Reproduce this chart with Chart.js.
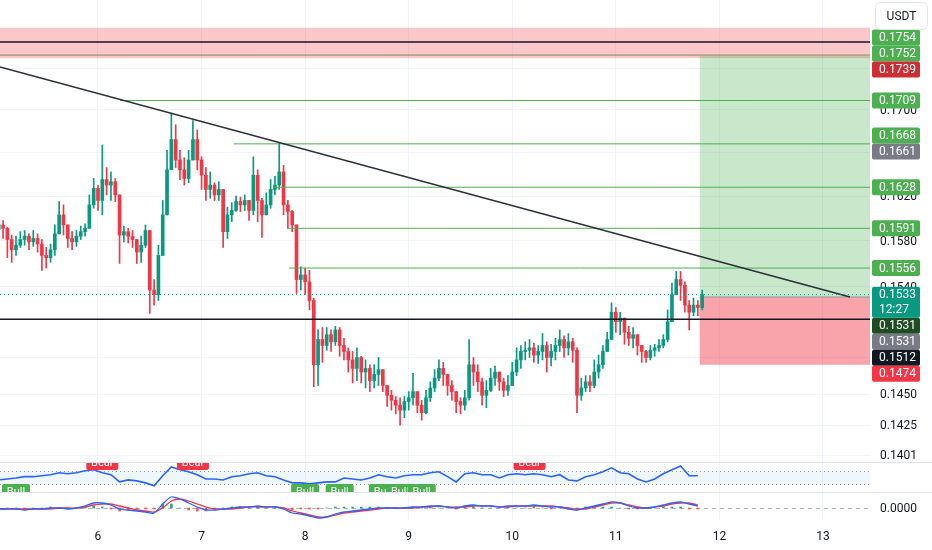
<!DOCTYPE html>
<html>
<head>
<meta charset="utf-8">
<title>USDT chart</title>
<script src="https://cdn.jsdelivr.net/npm/chart.js@4.4.1/dist/chart.umd.min.js"></script>
<style>
  html, body { margin: 0; padding: 0; background: #ffffff; }
  #wrap { position: relative; width: 932px; height: 550px; }
</style>
</head>
<body>
<div id="wrap"><canvas id="chart"></canvas></div>
<script>
// hourly candles, x is the day of the month
const candleStart = 5 + 1 / 24;
const candleStep = 1 / 24;
const firstOpen = 0.1590;

const closes = [
  0.1594, 0.1591, 0.1581, 0.1572, 0.1576, 0.1581, 0.1584, 0.1579, 0.1582, 0.1577,
  0.1567, 0.1565, 0.1572, 0.1586, 0.1603, 0.1594, 0.1582, 0.1579, 0.1584, 0.1588,
  0.1591, 0.1612, 0.1627, 0.1616, 0.1635, 0.1630, 0.1633, 0.1621, 0.1585, 0.1588,
  0.1584, 0.1581, 0.1570, 0.1576, 0.1589, 0.1537, 0.1533, 0.1567, 0.1603, 0.1644,
  0.1672, 0.1653, 0.1644, 0.1636, 0.1653, 0.1672, 0.1653, 0.1639, 0.1626, 0.1630,
  0.1621, 0.1626, 0.1588, 0.1603, 0.1607, 0.1615, 0.1612, 0.1616, 0.1607, 0.1639,
  0.1616, 0.1603, 0.1612, 0.1626, 0.1630, 0.1642, 0.1612, 0.1606, 0.1594, 0.1546,
  0.1550, 0.1544, 0.1528, 0.1474, 0.1495, 0.1490, 0.1499, 0.1493, 0.1503, 0.1490,
  0.1485, 0.1478, 0.1471, 0.1480, 0.1468, 0.1471, 0.1461, 0.1466, 0.1470, 0.1457,
  0.1449, 0.1445, 0.1441, 0.1437, 0.1444, 0.1447, 0.1452, 0.1441, 0.1435, 0.1447,
  0.1455, 0.1463, 0.1471, 0.1466, 0.1457, 0.1452, 0.1444, 0.1441, 0.1447, 0.1474,
  0.1468, 0.1460, 0.1449, 0.1453, 0.1463, 0.1468, 0.1460, 0.1453, 0.1457, 0.1468,
  0.1478, 0.1485, 0.1486, 0.1488, 0.1482, 0.1485, 0.1490, 0.1480, 0.1485, 0.1490,
  0.1495, 0.1488, 0.1493, 0.1486, 0.1449, 0.1455, 0.1460, 0.1457, 0.1468, 0.1474,
  0.1485, 0.1495, 0.1518, 0.1510, 0.1513, 0.1501, 0.1496, 0.1499, 0.1490, 0.1485,
  0.1480, 0.1486, 0.1488, 0.1490, 0.1495, 0.1510, 0.1533, 0.1546, 0.1541, 0.1524,
  0.1518, 0.1524, 0.1522, 0.1533
];
const highs = [
  0.1603, 0.1598, 0.1592, 0.1585, 0.1584, 0.1588, 0.1589, 0.1586, 0.1589, 0.1586,
  0.1581, 0.1574, 0.1577, 0.1594, 0.1615, 0.1612, 0.1594, 0.1588, 0.1589, 0.1593,
  0.1595, 0.1621, 0.1636, 0.1630, 0.1667, 0.1646, 0.1642, 0.1636, 0.1621, 0.1593,
  0.1591, 0.1589, 0.1581, 0.1584, 0.1594, 0.1589, 0.1546, 0.1576, 0.1616, 0.1662,
  0.1697, 0.1686, 0.1662, 0.1655, 0.1662, 0.1690, 0.1681, 0.1656, 0.1646, 0.1642,
  0.1632, 0.1633, 0.1621, 0.1610, 0.1614, 0.1620, 0.1619, 0.1621, 0.1616, 0.1656,
  0.1644, 0.1618, 0.1623, 0.1635, 0.1638, 0.1669, 0.1648, 0.1616, 0.1607, 0.1594,
  0.1557, 0.1556, 0.1554, 0.1530, 0.1503, 0.1505, 0.1505, 0.1503, 0.1506, 0.1505,
  0.1496, 0.1488, 0.1485, 0.1488, 0.1481, 0.1478, 0.1474, 0.1474, 0.1480, 0.1470,
  0.1457, 0.1453, 0.1448, 0.1447, 0.1448, 0.1452, 0.1467, 0.1449, 0.1445, 0.1453,
  0.1460, 0.1470, 0.1478, 0.1476, 0.1464, 0.1461, 0.1449, 0.1447, 0.1453, 0.1495,
  0.1480, 0.1474, 0.1463, 0.1461, 0.1471, 0.1473, 0.1468, 0.1463, 0.1465, 0.1476,
  0.1488, 0.1490, 0.1493, 0.1495, 0.1492, 0.1490, 0.1500, 0.1493, 0.1491, 0.1496,
  0.1503, 0.1498, 0.1500, 0.1496, 0.1488, 0.1463, 0.1465, 0.1465, 0.1478, 0.1482,
  0.1490, 0.1501, 0.1526, 0.1522, 0.1518, 0.1513, 0.1506, 0.1505, 0.1499, 0.1490,
  0.1486, 0.1490, 0.1491, 0.1495, 0.1499, 0.1520, 0.1543, 0.1553, 0.1553, 0.1544,
  0.1528, 0.1530, 0.1528, 0.1537
];
const lows = [
  0.1585, 0.1582, 0.1565, 0.1561, 0.1567, 0.1574, 0.1576, 0.1572, 0.1575, 0.1570,
  0.1554, 0.1556, 0.1561, 0.1567, 0.1589, 0.1585, 0.1574, 0.1572, 0.1575, 0.1581,
  0.1584, 0.1591, 0.1609, 0.1607, 0.1603, 0.1621, 0.1616, 0.1615, 0.1560, 0.1579,
  0.1578, 0.1574, 0.1560, 0.1561, 0.1574, 0.1517, 0.1524, 0.1528, 0.1567, 0.1603,
  0.1648, 0.1646, 0.1635, 0.1630, 0.1632, 0.1653, 0.1644, 0.1626, 0.1616, 0.1618,
  0.1616, 0.1616, 0.1574, 0.1582, 0.1597, 0.1606, 0.1606, 0.1607, 0.1598, 0.1603,
  0.1597, 0.1583, 0.1603, 0.1609, 0.1621, 0.1626, 0.1603, 0.1591, 0.1588, 0.1534,
  0.1537, 0.1533, 0.1520, 0.1456, 0.1457, 0.1476, 0.1486, 0.1485, 0.1490, 0.1481,
  0.1478, 0.1468, 0.1459, 0.1461, 0.1459, 0.1455, 0.1452, 0.1455, 0.1457, 0.1452,
  0.1440, 0.1437, 0.1434, 0.1425, 0.1431, 0.1437, 0.1441, 0.1435, 0.1429, 0.1434,
  0.1444, 0.1452, 0.1461, 0.1457, 0.1449, 0.1445, 0.1435, 0.1434, 0.1437, 0.1445,
  0.1457, 0.1452, 0.1441, 0.1439, 0.1452, 0.1457, 0.1453, 0.1448, 0.1449, 0.1457,
  0.1465, 0.1471, 0.1478, 0.1480, 0.1476, 0.1475, 0.1478, 0.1468, 0.1473, 0.1478,
  0.1485, 0.1480, 0.1482, 0.1476, 0.1435, 0.1445, 0.1452, 0.1452, 0.1455, 0.1463,
  0.1471, 0.1485, 0.1496, 0.1501, 0.1499, 0.1491, 0.1490, 0.1488, 0.1482, 0.1476,
  0.1476, 0.1478, 0.1481, 0.1485, 0.1488, 0.1493, 0.1511, 0.1535, 0.1528, 0.1518,
  0.1503, 0.1515, 0.1515, 0.1520
];

// oscillators, one value every two candles
const oscStep = 2 / 24;
const rsiValues = [
  42, 45, 48, 52, 52, 55, 58, 64, 61, 64, 70, 73, 64, 58, 36, 42, 39, 33, 24, 55,
  82, 73, 67, 58, 45, 45, 42, 52, 55, 61, 64, 55, 52, 42, 33, 33, 30, 33, 36, 36,
  48, 45, 42, 48, 58, 52, 48, 55, 58, 58, 64, 67, 52, 36, 61, 64, 58, 58, 48, 58,
  61, 58, 61, 58, 52, 58, 42, 39, 52, 58, 67, 79, 64, 61, 45, 36, 45, 61, 73, 85,
  55, 55
];
// MACD pane values in units of 0.0001 USDT
const macdLine = [
  -1, -1, -1, -2, -1, -1, 0, 0, -1, 0, 2, 5, 5, 3, -1, -2, -3, -4, -5, 4,
  11, 9, 5, 1, -2, -2, -1, 0, 1, 1, 2, 1, 1, -1, -5, -6, -8, -10, -9, -6,
  -4, -3, -2, -1, 0, 0, 0, 0, 1, 1, 2, 2, 1, 0, 2, 3, 2, 2, 1, 2,
  2, 2, 3, 2, 1, 1, -1, -2, 0, 2, 4, 6, 5, 2, 0, 0, 1, 3, 5, 6,
  4, 2
];
const macdSignal = [
  -1, -1, -1, -1, -1, -1, -1, 0, 0, 0, 1, 3, 4, 4, 2, 0, -2, -3, -4, 0,
  7, 9, 7, 4, 1, -1, -1, -1, 0, 1, 1, 1, 1, 0, -3, -5, -7, -9, -9, -7,
  -5, -4, -3, -2, -1, 0, 0, 0, 0, 1, 1, 2, 1, 1, 1, 2, 2, 2, 1, 1,
  2, 2, 2, 2, 2, 1, 0, -1, -1, 1, 3, 5, 5, 3, 1, 0, 1, 2, 4, 5,
  5, 3
];
const macdHist = [
  0, 0, 0, -1, 0, 0, 1, 0, -1, 0, 1, 2, 1, -1, -3, -2, -1, -1, -1, 4,
  4, 0, -2, -3, -3, -1, 0, 1, 1, 0, 1, 0, 0, -1, -2, -1, -1, -1, 0, 1,
  1, 1, 1, 1, 1, 0, 0, 0, 1, 0, 1, 0, 0, -1, 1, 1, 0, 0, 0, 1,
  0, 0, 1, 0, -1, 0, -1, -1, 1, 1, 1, 1, 0, -1, -1, 0, 0, 1, 1, 1,
  -1, -1
];

// axes
const dayMin = 5.0538;
const dayMax = 13.454;
const dayTicks = [6, 7, 8, 9, 10, 11, 12, 13];
const priceMin = 0.13959;
const priceMax = 0.18079;
const priceTicks = [0.1740, 0.1700, 0.1660, 0.1620, 0.1580, 0.1540, 0.1480, 0.1450, 0.1425, 0.1401];
const rsiUpper = 70;
const rsiLower = 30;

// drawings
const lastPrice = 0.1533;
const countdown = '12:27';
const trendDays = [5.0538, 13.261];
const trendPrices = [0.17413, 0.15309];
const levelPrices = [0.1709, 0.1668, 0.1628, 0.1591, 0.1556];
const levelStartDays = [6.212, 7.31, 7.70, 7.835, 7.845];
const supportPrice = 0.1512;
const zoneTop = 0.1780;
const zoneBottom = 0.1750;
const zoneLinePrices = [0.1766, 0.1753];
const tradeStartDay = 11.81;
const tradeEntry = 0.1531;
const tradeTarget = 0.1752;
const tradeStop = 0.1474;
const axisLabelValues = [0.1754, 0.1752, 0.1739, 0.1709, 0.1668, 0.1661, 0.1628, 0.1591, 0.1556, 0.1531, 0.1531, 0.1512, 0.1474];
const bearAt = [24, 45, 123];         // candle index of each Bear signal
const bullAt = [4, 71, 79, 89, 93, 98];

// styles
const FONT = "Roboto, 'Noto Sans', sans-serif";
const upColor = '#089981';
const downColor = '#f23645';
const axisLabelColors = ['#4caf50', '#4caf50', '#cc2e35', '#4caf50', '#4caf50', '#787b86', '#4caf50', '#4caf50', '#4caf50', '#1e4d21', '#787b86', '#131722', '#f23645'];

const candleX = closes.map((c, i) => candleStart + i * candleStep);
const opens = closes.map((c, i) => i === 0 ? firstOpen : closes[i - 1]);
const candleColors = closes.map((c, i) => c >= opens[i] ? upColor : downColor);
const oscX = rsiValues.map((v, k) => candleStart + k * oscStep);

function flat(fromDay, toDay, price) {
  return [{ x: fromDay, y: price }, { x: toDay, y: price }];
}
function lineSet(data, color, width, extra) {
  return Object.assign({
    type: 'line', data: data, borderColor: color, borderWidth: width,
    pointRadius: 0, yAxisID: 'y', order: 1, tension: 0
  }, extra || {});
}

const datasets = [
  {
    type: 'bar', label: 'wicks', yAxisID: 'y', order: 3, grouped: false,
    data: candleX.map((x, i) => ({ x: x, y: [Math.min(lows[i], opens[i], closes[i]), Math.max(highs[i], opens[i], closes[i])] })),
    backgroundColor: candleColors, barThickness: 1
  },
  {
    type: 'bar', label: 'bodies', yAxisID: 'y', order: 2, grouped: false,
    data: candleX.map((x, i) => ({ x: x, y: [opens[i], closes[i]] })),
    backgroundColor: candleColors, barThickness: 3, minBarLength: 1
  },
  lineSet(flat(dayMin, dayMax, zoneLinePrices[0]), '#131722', 1.5),
  lineSet(flat(dayMin, dayMax, zoneLinePrices[1]), '#7d8f4e', 1),
  lineSet(flat(dayMin, dayMax, supportPrice), '#131722', 1.5),
  lineSet(flat(dayMin, dayMax, lastPrice), upColor, 1, { borderDash: [1, 3] }),
  lineSet(trendDays.map((d, i) => ({ x: d, y: trendPrices[i] })), '#2a2e39', 1.5)
].concat(levelPrices.map((p, i) => lineSet(flat(levelStartDays[i], dayMax, p), '#4caf50', 1)))
 .concat([
  {
    type: 'line', label: 'RSI', yAxisID: 'rsi', order: 1,
    data: oscX.map((x, k) => ({ x: x, y: rsiValues[k] })),
    borderColor: '#2962ff', borderWidth: 1.6, pointRadius: 0, tension: 0
  },
  {
    type: 'bar', label: 'hist', yAxisID: 'macd', order: 3, grouped: false,
    data: oscX.map((x, k) => ({ x: x, y: macdHist[k] })),
    backgroundColor: macdHist.map(v => v >= 0 ? '#26a69a' : '#ff5252'), barThickness: 2
  },
  {
    type: 'line', label: 'MACD', yAxisID: 'macd', order: 1,
    data: oscX.map((x, k) => ({ x: x, y: macdLine[k] })),
    borderColor: '#2962ff', borderWidth: 1.3, pointRadius: 0, tension: 0.3
  },
  {
    type: 'line', label: 'Signal', yAxisID: 'macd', order: 1,
    data: oscX.map((x, k) => ({ x: x, y: macdSignal[k] })),
    borderColor: '#f23645', borderWidth: 1.3, pointRadius: 0, tension: 0.3
  }
]);

// fixed right axis width, no extra label padding so the panes fill the canvas
function rightWidth(scale) {
  scale.width = 62;
  scale.paddingTop = 0;
  scale.paddingBottom = 0;
}

const paneDecor = {
  id: 'paneDecor',
  beforeDatasetsDraw(chart) {
    const { ctx, chartArea: a, scales } = chart;
    const x = scales.x, y = scales.y, rsi = scales.rsi, macd = scales.macd;
    ctx.save();
    ctx.beginPath();
    ctx.rect(a.left, y.top, a.right - a.left, y.bottom - y.top);
    ctx.clip();
    const zt = y.getPixelForValue(zoneTop), zb = y.getPixelForValue(zoneBottom);
    ctx.fillStyle = 'rgba(242,54,69,0.28)';
    ctx.fillRect(a.left, zt, a.right - a.left, zb - zt);
    const tx = x.getPixelForValue(tradeStartDay);
    const ye = y.getPixelForValue(tradeEntry);
    const yt = y.getPixelForValue(tradeTarget);
    const ys = y.getPixelForValue(tradeStop);
    ctx.fillStyle = 'rgba(76,175,80,0.3)';
    ctx.fillRect(tx, yt, a.right - tx, ye - yt);
    ctx.fillStyle = 'rgba(242,54,69,0.45)';
    ctx.fillRect(tx, ye, a.right - tx, ys - ye);
    ctx.strokeStyle = '#9598a1';
    ctx.lineWidth = 1;
    ctx.beginPath();
    ctx.moveTo(tx, ye); ctx.lineTo(a.right, ye);
    ctx.stroke();
    ctx.restore();

    // RSI band
    const r1 = rsi.getPixelForValue(rsiUpper), r2 = rsi.getPixelForValue(rsiLower);
    ctx.save();
    ctx.fillStyle = 'rgba(33,150,243,0.08)';
    ctx.fillRect(a.left, r1, a.right - a.left, r2 - r1);
    ctx.strokeStyle = '#9598a1';
    ctx.lineWidth = 1;
    ctx.setLineDash([1, 3]);
    [r1, r2].forEach(py => {
      ctx.beginPath();
      ctx.moveTo(a.left, Math.round(py) + 0.5);
      ctx.lineTo(a.right, Math.round(py) + 0.5);
      ctx.stroke();
    });
    // MACD zero line
    const z = Math.round(macd.getPixelForValue(0)) + 0.5;
    ctx.strokeStyle = '#b2b5be';
    ctx.setLineDash([4, 4]);
    ctx.beginPath();
    ctx.moveTo(a.left, z); ctx.lineTo(a.right, z);
    ctx.stroke();
    ctx.setLineDash([]);
    // pane separators
    ctx.strokeStyle = '#e0e3eb';
    [rsi.top, rsi.bottom].forEach(py => {
      ctx.beginPath();
      ctx.moveTo(0, Math.round(py) + 0.5);
      ctx.lineTo(chart.width, Math.round(py) + 0.5);
      ctx.stroke();
    });
    ctx.restore();
  },
  afterDatasetsDraw(chart) {
    const { ctx, chartArea: a, scales } = chart;
    const x = scales.x, y = scales.y, rsi = scales.rsi;

    // Bull / Bear tags, clipped to the oscillator pane
    ctx.save();
    ctx.beginPath();
    ctx.rect(a.left, rsi.top + 1, a.right - a.left, rsi.bottom - rsi.top - 1);
    ctx.clip();
    ctx.font = '11px ' + FONT;
    ctx.textAlign = 'center';
    ctx.textBaseline = 'middle';
    bearAt.forEach(i => {
      const cx = x.getPixelForValue(candleX[i]);
      ctx.fillStyle = '#f23645';
      ctx.beginPath(); ctx.roundRect(cx - 16, rsi.top - 8, 32, 16, 2); ctx.fill();
      ctx.fillStyle = '#ffffff';
      ctx.fillText('Bear', cx, rsi.top + 1);
    });
    bullAt.forEach(i => {
      const cx = x.getPixelForValue(candleX[i]);
      ctx.fillStyle = '#4caf50';
      ctx.beginPath(); ctx.roundRect(cx - 14, rsi.bottom - 8, 28, 16, 2); ctx.fill();
      ctx.fillStyle = '#ffffff';
      ctx.fillText('Bull', cx, rsi.bottom);
    });
    ctx.restore();

    // price axis tags
    const bx = a.right + 2, bw = 48;
    const anchorY = y.getPixelForValue(lastPrice);
    const items = axisLabelValues.map((v, i) => ({ v: v, i: i, y: y.getPixelForValue(v) }));
    const above = items.filter(o => o.v > lastPrice).sort((p, q) => q.y - p.y);
    const below = items.filter(o => o.v <= lastPrice).sort((p, q) => p.y - q.y);
    let limit = anchorY - 8;
    above.forEach(o => { if (o.y + 8 > limit) o.y = limit - 8; limit = o.y - 8; });
    limit = anchorY + 23;
    below.forEach(o => { if (o.y - 8 < limit) o.y = limit + 8; limit = o.y + 8; });

    ctx.save();
    ctx.font = '12px ' + FONT;
    ctx.textAlign = 'left';
    ctx.textBaseline = 'middle';
    items.forEach(o => {
      ctx.fillStyle = axisLabelColors[o.i];
      ctx.beginPath(); ctx.roundRect(bx, o.y - 8, bw, 16, 2); ctx.fill();
      ctx.fillStyle = '#ffffff';
      ctx.fillText(o.v.toFixed(4), bx + 7, o.y + 0.5);
    });
    ctx.fillStyle = upColor;
    ctx.beginPath(); ctx.roundRect(bx, anchorY - 8, bw, 31, 2); ctx.fill();
    ctx.fillStyle = '#ffffff';
    ctx.fillText(lastPrice.toFixed(4), bx + 7, anchorY + 0.5);
    ctx.fillText(countdown, bx + 7, anchorY + 15.5);

    // currency tag
    ctx.fillStyle = '#ffffff';
    ctx.strokeStyle = '#e0e3eb';
    ctx.beginPath(); ctx.roundRect(875.5, 2.5, 52, 27, 5); ctx.fill(); ctx.stroke();
    ctx.fillStyle = '#131722';
    ctx.textAlign = 'center';
    ctx.fillText('USDT', 901.5, 16.5);
    ctx.restore();
  }
};

new Chart(document.getElementById('chart'), {
  type: 'bar',
  data: { datasets: datasets },
  options: {
    responsive: true,
    maintainAspectRatio: false,
    animation: false,
    events: [],
    layout: { padding: 0, autoPadding: false },
    plugins: { legend: { display: false }, tooltip: { enabled: false } },
    scales: {
      x: {
        type: 'linear', min: dayMin, max: dayMax, offset: false,
        grid: { color: '#f0f3fa', drawTicks: false, offset: false },
        border: { display: false },
        ticks: { color: '#131722', font: { family: FONT, size: 12 }, padding: 10, autoSkip: false, maxRotation: 0 },
        afterBuildTicks: s => { s.ticks = dayTicks.map(v => ({ value: v })); },
        afterFit: s => { s.height = 30; s.paddingLeft = 0; s.paddingRight = 0; }
      },
      y: {
        type: 'logarithmic', position: 'right', stack: 'panes', stackWeight: 462,
        min: priceMin, max: priceMax,
        grid: { color: '#f0f3fa', drawTicks: false },
        border: { display: false },
        ticks: { color: '#131722', font: { family: FONT, size: 12 }, padding: 10, autoSkip: false, labelOffset: 1, callback: v => Number(v).toFixed(4) },
        afterBuildTicks: s => { s.ticks = priceTicks.map(v => ({ value: v })); },
        afterFit: rightWidth
      },
      rsi: {
        type: 'linear', position: 'right', stack: 'panes', stackWeight: 30,
        min: 5, max: 97,
        grid: { display: false, drawTicks: false },
        border: { display: false },
        ticks: { display: false },
        afterFit: rightWidth
      },
      macd: {
        type: 'linear', position: 'right', stack: 'panes', stackWeight: 28,
        min: -12, max: 16,
        grid: { display: false, drawTicks: false },
        border: { display: false },
        ticks: { color: '#131722', font: { family: FONT, size: 12 }, padding: 10, labelOffset: 1, callback: v => (v * 0.0001).toFixed(4) },
        afterBuildTicks: s => { s.ticks = [{ value: 0 }]; },
        afterFit: rightWidth
      }
    }
  },
  plugins: [paneDecor]
});
</script>
</body>
</html>
